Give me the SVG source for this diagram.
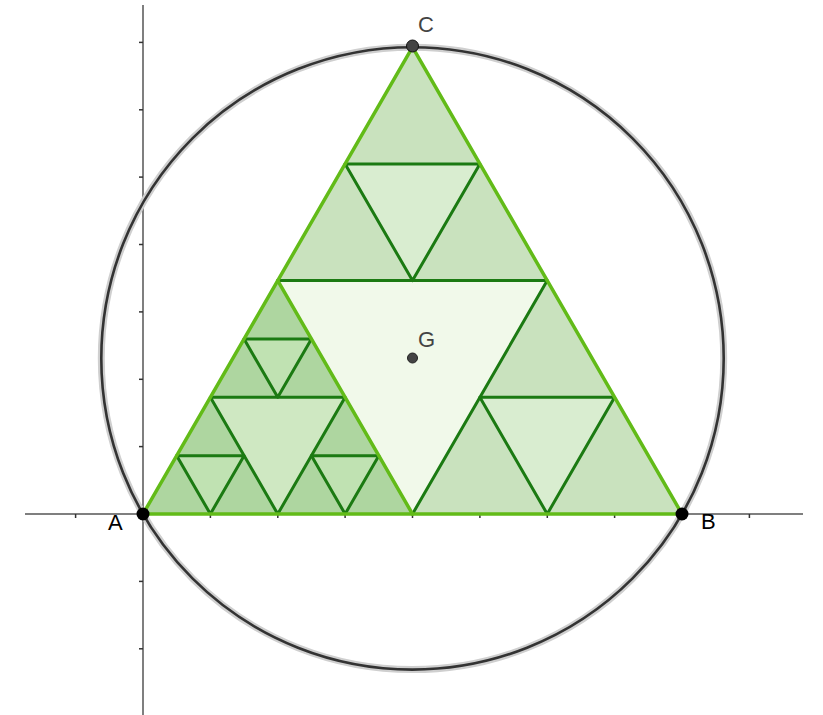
<svg xmlns="http://www.w3.org/2000/svg" width="823" height="715" viewBox="0 0 823 715">
<style>
.axis{stroke:#555;stroke-width:1.5;fill:none}
.tick{stroke:#333;stroke-width:1.5}
.dk{stroke:#1b7a12;stroke-width:3;fill:none;stroke-linejoin:round;stroke-linecap:round}
.br{stroke:#62bb18;stroke-width:3.5;fill:none;stroke-linejoin:round;stroke-linecap:round}
.lbl{font-family:"Liberation Sans",Arial,sans-serif;font-size:22px}
</style>
<rect width="823" height="715" fill="#fff"/>
<g id="axes">
<line class="axis" x1="25" y1="514" x2="803" y2="514"/>
<line class="axis" x1="143" y1="5" x2="143" y2="715"/>
<g class="tick">
<line x1="75.6" y1="514" x2="75.6" y2="518"/>
<line x1="210.4" y1="514" x2="210.4" y2="518"/>
<line x1="277.8" y1="514" x2="277.8" y2="518"/>
<line x1="345.1" y1="514" x2="345.1" y2="518"/>
<line x1="412.5" y1="514" x2="412.5" y2="518"/>
<line x1="479.9" y1="514" x2="479.9" y2="518"/>
<line x1="547.3" y1="514" x2="547.3" y2="518"/>
<line x1="614.6" y1="514" x2="614.6" y2="518"/>
<line x1="749.4" y1="514" x2="749.4" y2="518"/>
<line x1="139" y1="446.6" x2="143" y2="446.6"/>
<line x1="139" y1="379.3" x2="143" y2="379.3"/>
<line x1="139" y1="311.9" x2="143" y2="311.9"/>
<line x1="139" y1="244.5" x2="143" y2="244.5"/>
<line x1="139" y1="177.1" x2="143" y2="177.1"/>
<line x1="139" y1="109.8" x2="143" y2="109.8"/>
<line x1="139" y1="42.4" x2="143" y2="42.4"/>
<line x1="139" y1="581.4" x2="143" y2="581.4"/>
<line x1="139" y1="648.8" x2="143" y2="648.8"/>
</g>
</g>
<g id="fills">
<polygon points="277.75,280.61 547.25,280.61 412.5,47.2" fill="#c9e2be"/>
<polygon points="412.5,514 682,514 547.25,280.61" fill="#c9e2be"/>
<polygon points="143,514 412.5,514 277.75,280.61" fill="#aed6a0"/>
<polygon points="277.75,280.61 547.25,280.61 412.5,514" fill="#f1f9ea"/>
<polygon points="412.5,280.61 345.125,163.9 479.875,163.9" fill="#d9edd0"/>
<polygon points="547.25,514 479.875,397.3 614.625,397.3" fill="#d9edd0"/>
<polygon points="277.75,514 210.375,397.3 345.125,397.3" fill="#cfe8c2"/>
<polygon points="210.375,514 176.69,455.65 244.06,455.65" fill="#c0e2b2"/>
<polygon points="345.125,514 311.44,455.65 378.81,455.65" fill="#c0e2b2"/>
<polygon points="277.75,397.3 244.06,338.96 311.44,338.96" fill="#c0e2b2"/>
</g>
<g id="connectors">
<polygon class="dk" points="412.5,280.61 345.125,163.9 479.875,163.9"/>
<polygon class="dk" points="547.25,514 479.875,397.3 614.625,397.3"/>
<polygon class="dk" points="277.75,514 210.375,397.3 345.125,397.3"/>
<polygon class="dk" points="210.375,514 176.69,455.65 244.06,455.65"/>
<polygon class="dk" points="345.125,514 311.44,455.65 378.81,455.65"/>
<polygon class="dk" points="277.75,397.3 244.06,338.96 311.44,338.96"/>
<polyline class="dk" points="277.75,280.61 547.25,280.61 412.5,514"/>
<line class="br" x1="277.75" y1="280.61" x2="412.5" y2="514"/>
<polygon class="br" points="143,514 682,514 412.5,47.2"/>
</g>
<g id="circle">
<circle cx="412.5" cy="358.4" r="311.2" fill="none" stroke="#cfcfcf" stroke-width="7"/>
<circle cx="412.5" cy="358.4" r="311.2" fill="none" stroke="#333" stroke-width="2.6"/>
</g>
<g id="A"><circle cx="143" cy="514" r="6.5" fill="#000"/><text class="lbl" x="108" y="530" fill="#000">A</text></g>
<g id="B"><circle cx="682" cy="514" r="6.5" fill="#000"/><text class="lbl" x="701" y="529" fill="#000">B</text></g>
<g id="C"><circle cx="412.5" cy="46" r="6" fill="#444" stroke="#111" stroke-width="1"/><text class="lbl" x="418" y="32" fill="#444">C</text></g>
<g id="G"><circle cx="412.5" cy="358" r="5" fill="#444" stroke="#222" stroke-width="1"/><text class="lbl" x="418" y="347" fill="#444">G</text></g>
</svg>
